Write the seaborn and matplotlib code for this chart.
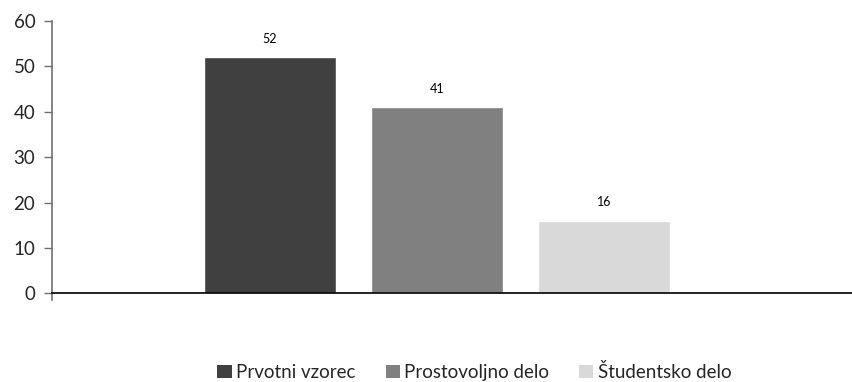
import matplotlib
matplotlib.use("Agg")
import matplotlib.pyplot as plt
import seaborn as sns
import pandas as pd
from matplotlib.patches import Patch

# Data
groups = ["Prvotni vzorec", "Prostovoljno delo", "Študentsko delo"]
values = [52, 41, 16]
colors = ["#404040", "#808080", "#d9d9d9"]
y_ticks = [0, 10, 20, 30, 40, 50, 60]

df = pd.DataFrame({"group": groups, "value": values})

sns.set_style("white")
plt.rcParams["font.family"] = ["Lato", "DejaVu Sans"]

fig = plt.figure(figsize=(8.52, 3.82), dpi=100)
ax = fig.add_axes([52 / 852, 1 - 293.3 / 382, 1 - 52 / 852, (293.3 - 21) / 382])

sns.barplot(data=df, x="group", y="value", hue="group", palette=colors,
            order=groups, hue_order=groups, width=0.79, dodge=False,
            legend=False, ax=ax, saturation=1)

for bar, v in zip(ax.patches, values):
    ax.annotate(f"{v}", (bar.get_x() + bar.get_width() / 2, v),
                xytext=(0, 9), textcoords="offset points",
                ha="center", va="bottom", fontsize=9, color="#000000")

ax.set_ylim(0, 60)
ax.set_yticks(y_ticks)
ax.set_yticklabels([str(t) for t in y_ticks], fontsize=13.5)
ax.set_xlim(-1.305, 3.485)
ax.set_xticks([])
ax.set_xlabel("")
ax.set_ylabel("")

for side in ["top", "right"]:
    ax.spines[side].set_visible(False)
ax.spines["left"].set_color("#707070")
ax.spines["left"].set_linewidth(1.2)
ax.spines["left"].set_bounds(-1.5, 60)
ax.spines["bottom"].set_color("#000000")
ax.spines["bottom"].set_linewidth(1.2)
ax.tick_params(axis="y", direction="out", length=6, width=1, color="#707070",
               pad=6, left=True)

handles = [Patch(facecolor=c, edgecolor="none") for c in colors]
fig.legend(handles, groups, loc="center", bbox_to_anchor=(0.557, 1 - 372 / 382),
           ncol=3, frameon=False, fontsize=13.5, handlelength=0.75, handleheight=0.75,
           handletextpad=0.25, columnspacing=1.6)

fig.savefig("out.png", dpi=100)
